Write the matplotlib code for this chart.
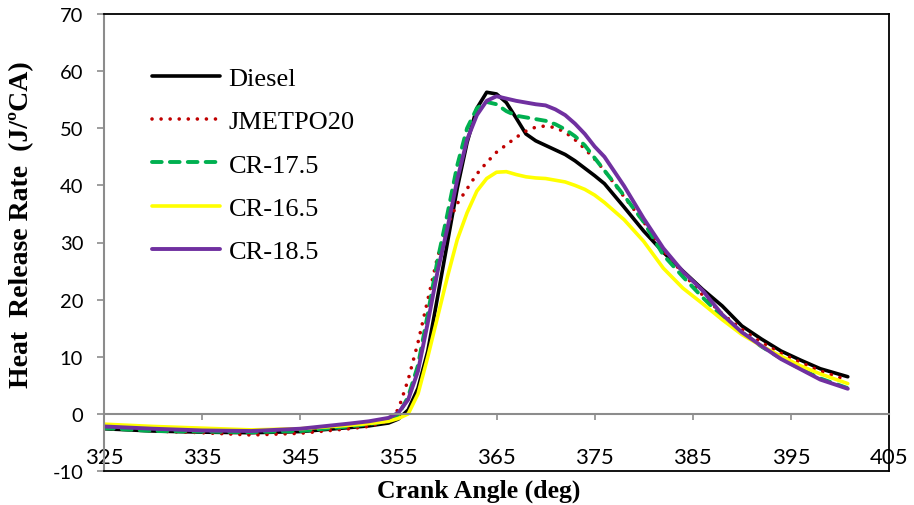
import matplotlib
matplotlib.use("Agg")
import matplotlib.pyplot as plt

plt.rcParams["axes.unicode_minus"] = False

crank_angle = [325, 330, 335, 340, 345, 350, 352, 354, 355, 356, 357, 358, 359, 360,
               361, 362, 363, 364, 365, 366, 367, 368, 369, 370, 371, 372, 373, 374,
               375, 376, 378, 380, 382, 384, 386, 388, 390, 392, 394, 396, 398, 400.8]

diesel = [-2.6, -3.0, -3.2, -3.3, -3.1, -2.4, -2.1, -1.6, -0.9, 0.7, 4.5, 11.0, 20.5, 30.0,
          39.5, 47.5, 53.5, 56.3, 56.0, 54.5, 51.8, 49.0, 47.8, 47.0, 46.2, 45.4, 44.3, 43.0,
          41.7, 40.3, 36.2, 32.0, 28.3, 25.0, 21.8, 18.9, 15.4, 13.1, 11.0, 9.4, 7.9, 6.5]

jmetpo20 = [-2.5, -3.0, -3.3, -3.7, -3.4, -2.6, -2.2, -1.2, 0.8, 6.0, 12.5, 20.0, 27.5, 33.0,
            36.8, 39.4, 42.0, 44.0, 45.8, 47.1, 48.4, 49.5, 50.2, 50.4, 50.1, 49.3, 48.0, 46.4,
            44.6, 42.6, 38.0, 33.6, 28.6, 24.6, 20.8, 17.5, 14.8, 12.5, 10.6, 9.0, 7.5, 5.9]

cr_17_5 = [-2.5, -3.0, -3.1, -3.2, -3.0, -2.2, -1.8, -1.2, -0.2, 3.0, 8.5, 17.5, 27.0, 35.0,
           43.5, 50.0, 53.5, 54.6, 54.2, 53.0, 52.2, 51.9, 51.6, 51.3, 50.7, 49.8, 48.6, 47.0,
           44.8, 42.6, 38.2, 33.6, 27.8, 24.0, 20.4, 17.0, 14.3, 11.8, 9.7, 7.9, 6.2, 4.5]

cr_16_5 = [-1.8, -2.2, -2.5, -2.8, -2.6, -2.0, -1.7, -1.3, -0.8, 0.0, 3.5, 10.0, 17.0, 24.0,
           30.5, 35.2, 39.0, 41.2, 42.3, 42.4, 41.9, 41.5, 41.3, 41.2, 40.9, 40.6, 40.0, 39.3,
           38.3, 37.0, 34.0, 30.2, 25.5, 22.0, 19.3, 16.5, 13.9, 11.9, 10.1, 8.4, 7.0, 5.3]

cr_18_5 = [-2.2, -2.6, -2.9, -3.0, -2.6, -1.7, -1.3, -0.7, 0.2, 2.5, 7.5, 16.0, 25.0, 32.5,
           41.0, 48.0, 52.3, 54.8, 55.6, 55.2, 54.8, 54.5, 54.2, 54.0, 53.3, 52.3, 50.8, 49.0,
           46.8, 45.0, 39.9, 34.2, 29.0, 24.9, 21.6, 17.4, 14.3, 11.9, 9.6, 7.8, 6.0, 4.4]

series_labels = ["Diesel", "JMETPO20", "CR-17.5", "CR-16.5", "CR-18.5"]
x_ticks = [325, 335, 345, 355, 365, 375, 385, 395, 405]
y_ticks = [-10, 0, 10, 20, 30, 40, 50, 60, 70]

fig = plt.figure(figsize=(9.14, 5.06), dpi=100)
ax = fig.add_axes([104/914, 1-472/506, 785/914, 457/506])

serif = ["Liberation Serif", "DejaVu Serif"]

ax.plot(crank_angle, diesel, color="#000000", lw=2.6, label=series_labels[0],
        solid_joinstyle="round", solid_capstyle="round")
ax.plot(crank_angle, jmetpo20, color="#C00000", lw=2.6, label=series_labels[1],
        linestyle=(0, (0.01, 2.5)), dash_capstyle="round")
ax.plot(crank_angle, cr_17_5, color="#00B050", lw=2.8, label=series_labels[2],
        linestyle=(0, (2.5, 2.1)), dash_capstyle="round")
ax.plot(crank_angle, cr_16_5, color="#FFFF00", lw=2.6, label=series_labels[3],
        solid_joinstyle="round", solid_capstyle="round")
ax.plot(crank_angle, cr_18_5, color="#7030A0", lw=2.8, label=series_labels[4],
        solid_joinstyle="round", solid_capstyle="round")

ax.set_xlim(325, 405)
ax.set_ylim(-10, 70)

grey = "#8C8C8C"
ax.spines["bottom"].set_position(("data", 0))
ax.spines["bottom"].set_color(grey)
ax.spines["bottom"].set_linewidth(1.5)
ax.spines["left"].set_color(grey)
ax.spines["left"].set_linewidth(1.5)
for s in ("top", "right"):
    ax.spines[s].set_color("#000000")
    ax.spines[s].set_linewidth(1.3)
ax.plot([0, 1], [0, 0], transform=ax.transAxes, color="#000000", lw=1.3,
        clip_on=False, zorder=5)

ax.set_xticks(x_ticks)
ax.set_yticks(y_ticks)
ax.tick_params(axis="x", direction="out", length=4, width=1.2, color=grey, pad=20,
               labelsize=16)
ax.tick_params(axis="y", direction="out", length=5, width=1.2, color=grey, pad=10,
               labelsize=14.5)
for lab in ax.get_xticklabels() + ax.get_yticklabels():
    lab.set_fontfamily(["Lato", "DejaVu Sans"])

fig.text(22/914, 1-225/506, "Heat  Release Rate  (J/ºCA)", rotation=90,
         ha="center", va="center", fontsize=20, fontweight="bold", family=serif)
fig.text(479/914, 1-491/506, "Crank Angle (deg)", ha="center", va="center",
         fontsize=18.5, fontweight="bold", family=serif)

leg = ax.legend(loc="upper left", bbox_to_anchor=(0.061, 0.885), frameon=False,
                prop={"family": serif, "size": 19}, handlelength=2.6,
                handletextpad=0.3, labelspacing=0.75, borderpad=0, borderaxespad=0)

fig.savefig("out.png", dpi=100)
